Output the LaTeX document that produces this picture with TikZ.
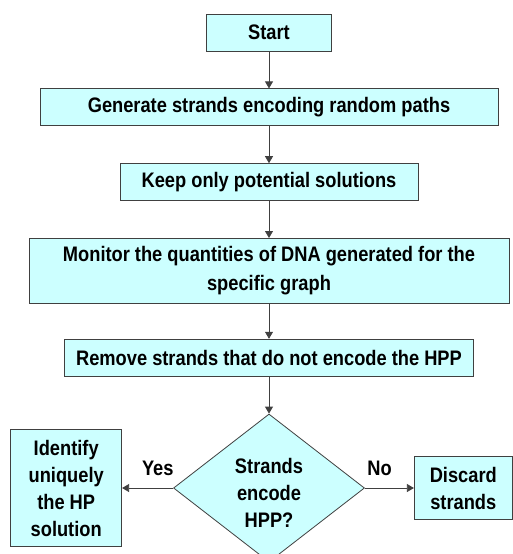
\documentclass[tikz,border=0pt]{standalone}
\usepackage{fontspec}
\newfontfamily\flowfont[FakeStretch=0.87]{Liberation Sans}
\usetikzlibrary{shapes.geometric, arrows.meta, positioning}

\definecolor{boxfill}{RGB}{204,255,255}
\definecolor{boxline}{RGB}{64,64,64}

\begin{document}
\begin{tikzpicture}[node distance=37pt, inner sep=3pt,
  >={Triangle[length=7pt,width=8pt]},
  every node/.style = {align=center, font=\flowfont\bfseries\fontsize{21}{27}\selectfont},
  stepbox/.style = {shape=rectangle, draw=boxline, fill=boxfill, line width=0.8pt, minimum height=37pt},
  decision/.style = {shape=diamond, draw=boxline, fill=boxfill, line width=0.8pt, inner sep=0pt,
                     minimum width=191pt, minimum height=148pt},
  flow/.style = {->, draw=boxline, line width=0.8pt}]
  \useasboundingbox (0,0) rectangle (513pt,-554pt);
  % main column
  \node[stepbox, minimum width=125pt] (start) at (269pt,-32.5pt) {Start};
  \node[stepbox, minimum width=458pt, below=of start] (generate) {Generate strands encoding random paths};
  \node[stepbox, minimum width=298pt, below=of generate] (keep) {Keep only potential solutions};
  \node[stepbox, minimum width=480pt, minimum height=65pt, below=of keep] (monitor)
    {Monitor the quantities of DNA generated for the\\[2pt]specific graph};
  \node[stepbox, minimum width=409pt, below=35pt of monitor] (remove) {Remove strands that do not encode the HPP};
  \node[decision, below=of remove] (test)
    {\raisebox{0pt}[52pt][28pt]{\begin{tabular}{@{}c@{}}Strands\\encode\\HPP?\end{tabular}}};
  % branches
  \node[stepbox, minimum width=111pt, minimum height=117pt, left=51pt of test] (identify)
    {Identify\\uniquely\\the HP\\solution};
  \node[stepbox, minimum width=98pt, minimum height=63pt, right=49pt of test] (discard)
    {Discard\\strands};

  \draw[flow] (start) -- (generate);
  \draw[flow] (generate) -- (keep);
  \draw[flow] (keep) -- (monitor);
  \draw[flow] (monitor) -- (remove);
  \draw[flow] (remove) -- (test);
  \draw[flow] (test) -- node[above=9pt, pos=0.3] {Yes} (identify);
  \draw[flow] (test) -- node[above=9pt, pos=0.3] {No} (discard);
\end{tikzpicture}
\end{document}
